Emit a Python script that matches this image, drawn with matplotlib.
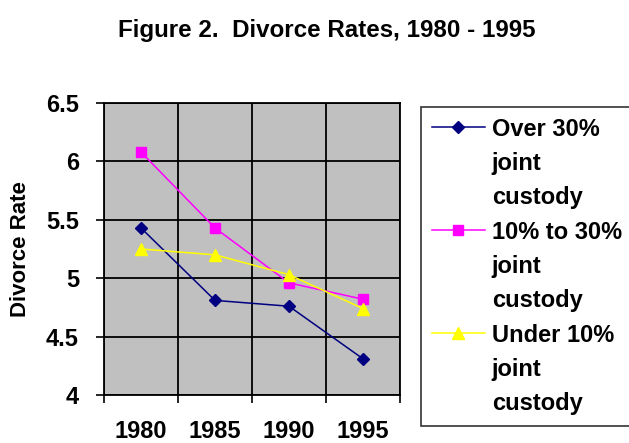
import numpy as np
import matplotlib.pyplot as plt
from matplotlib.lines import Line2D

plt.rcParams['font.family'] = ['Liberation Sans', 'DejaVu Sans']
plt.rcParams['font.weight'] = 'bold'

# data
years = ['1980', '1985', '1990', '1995']
over_30 = [5.43, 4.81, 4.76, 4.31]
pct_10_30 = [6.08, 5.43, 4.96, 4.82]
under_10 = [5.25, 5.20, 5.03, 4.74]

series_names = ['Over 30%', '10% to 30%', 'Under 10%']
yticks = [4, 4.5, 5, 5.5, 6, 6.5]
ytick_labels = ['4', '4.5', '5', '5.5', '6', '6.5']

fig = plt.figure(figsize=(6.29, 4.43), dpi=100)
ax = fig.add_axes([104/629, 1 - 395/443, 296/629, 292/443])
ax.set_facecolor('#c0c0c0')

x = np.arange(len(years))
l1, = ax.plot(x, over_30, color='#000080', marker='D', markersize=6, lw=1.1)
l2, = ax.plot(x, pct_10_30, color='#ff00ff', marker='s', markersize=7, lw=1.1)
l3, = ax.plot(x, under_10, color='#ffff00', marker='^', markersize=8, lw=1.1)

ax.set_xlim(-0.5, len(years) - 0.5)
ax.set_ylim(4, 6.5)
ax.set_yticks(yticks)
ax.set_yticklabels(ytick_labels)
ax.set_xticks(x)
ax.set_xticklabels(years)
ax.set_xticks(np.arange(len(years) + 1) - 0.5, minor=True)
ax.tick_params(axis='x', which='major', length=0, pad=18, labelsize=17)
ax.tick_params(axis='x', which='minor', length=6, width=1.2, color='black')
ax.tick_params(axis='y', length=6, width=1.2, pad=12, labelsize=17)
ax.grid(True, axis='y', which='major', color='black', lw=1.3)
ax.grid(True, axis='x', which='minor', color='black', lw=1.3)
ax.set_axisbelow(True)
for s in ax.spines.values():
    s.set_color('black')
    s.set_linewidth(1.3)

ax.set_ylabel('Divorce Rate', fontsize=16, fontweight='bold')
ax.yaxis.set_label_coords(-0.247, 0.5)

fig.text(0.52, 0.932, 'Figure 2.  Divorce Rates, 1980 - 1995', fontsize=17.4,
         ha='center', va='center', fontweight='bold')

# legend: each series gets three lines, handle on the first one
blank = Line2D([], [], linestyle='none', marker=None)
handles = []
labels = []
for h, name in zip([l1, l2, l3], series_names):
    handles += [h, blank, blank]
    labels += [name, 'joint', 'custody']
leg = fig.legend(handles, labels, loc='upper left',
                 bbox_to_anchor=(421/629, 1 - 427/443, 0.5, 320/443),
                 mode='expand', borderaxespad=0, fontsize=17,
                 handlelength=2.25, handletextpad=0.3, borderpad=0.45,
                 labelspacing=0.48, fancybox=False, frameon=True)
leg.get_frame().set_edgecolor('black')
leg.get_frame().set_linewidth(1.2)

fig.savefig('out.png', dpi=100)
